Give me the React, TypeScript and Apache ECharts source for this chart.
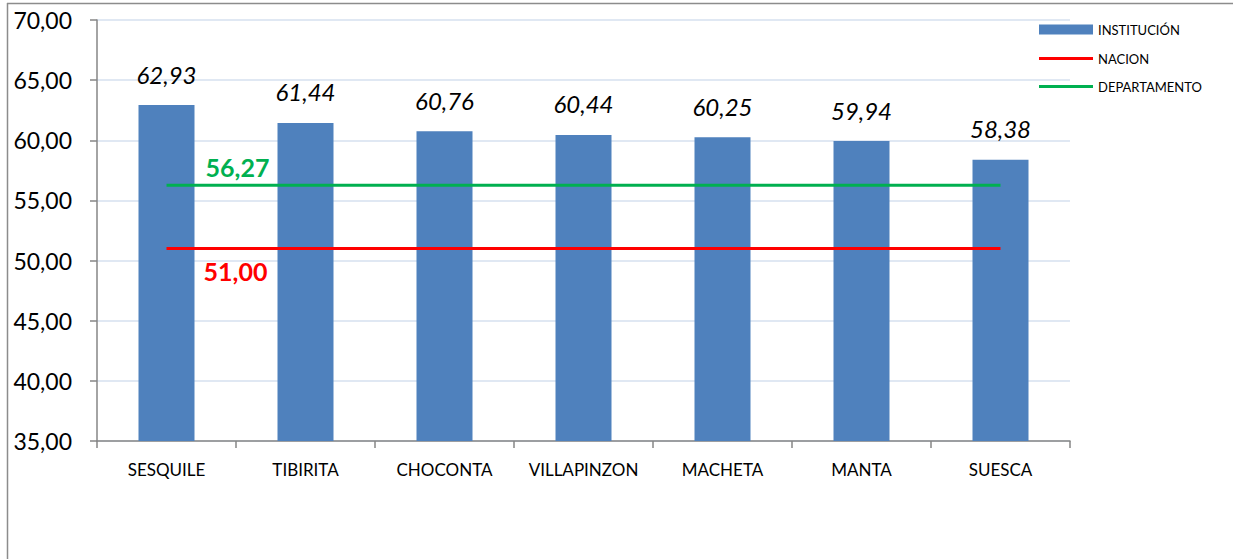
import React, { useEffect, useRef } from "react";
import * as echarts from "echarts";

const categories = ["SESQUILE", "TIBIRITA", "CHOCONTA", "VILLAPINZON", "MACHETA", "MANTA", "SUESCA"];
const institucion = [62.93, 61.44, 60.76, 60.44, 60.25, 59.94, 58.38];
const nacion = [51.0, 51.0, 51.0, 51.0, 51.0, 51.0, 51.0];
const departamento = [56.27, 56.27, 56.27, 56.27, 56.27, 56.27, 56.27];

const fmt = (v: number) => v.toFixed(2).replace(".", ",");
const FONT = "Lato";

const legendText = { fontFamily: FONT, fontSize: 13, color: "#000" };

export default function App() {
  const ref = useRef<HTMLDivElement>(null);
  useEffect(() => {
    if (!ref.current) return;
    const chart = echarts.init(ref.current, null, { renderer: "svg" });
    const lineLabel = (color: string, offset: number[]) => ({
      show: true,
      position: "inside",
      offset,
      fontFamily: FONT,
      fontSize: 25,
      fontWeight: "bold",
      color,
      formatter: (p: any) => fmt(p.value),
    });
    chart.setOption({
      animation: false,
      backgroundColor: "#ffffff",
      textStyle: { fontFamily: FONT },
      grid: { left: 97, top: 20, right: 163, bottom: 118, containLabel: false },
      legend: [
        {
          orient: "vertical",
          left: 1034,
          top: 18,
          itemWidth: 54,
          itemHeight: 10,
          textStyle: legendText,
          data: [{ name: "INSTITUCIÓN", icon: "rect" }],
        },
        {
          orient: "vertical",
          left: 1034,
          top: 47,
          itemWidth: 54,
          itemHeight: 3,
          itemGap: 15,
          textStyle: legendText,
          data: [
            { name: "NACION", icon: "rect" },
            { name: "DEPARTAMENTO", icon: "rect" },
          ],
        },
      ],
      graphic: [
        { type: "line", shape: { x1: 7.5, y1: 3, x2: 7.5, y2: 559 }, style: { stroke: "#8c8c8c", lineWidth: 1.5 } },
        { type: "line", shape: { x1: 7, y1: 3.5, x2: 1233, y2: 3.5 }, style: { stroke: "#8c8c8c", lineWidth: 1.5 } },
      ],
      xAxis: {
        type: "category",
        data: categories,
        boundaryGap: true,
        axisLine: { lineStyle: { color: "#868686", width: 1.5 } },
        axisTick: { show: true, interval: 0, length: 7, inside: false, lineStyle: { color: "#868686", width: 1.5 } },
        axisLabel: { interval: 0, fontFamily: FONT, fontSize: 17, color: "#000", margin: 20 },
      },
      yAxis: {
        type: "value",
        min: 35,
        max: 70,
        interval: 5,
        axisLine: { show: true, lineStyle: { color: "#868686", width: 1.5 } },
        axisTick: { show: true, length: 7, lineStyle: { color: "#868686", width: 1.5 } },
        axisLabel: { fontFamily: FONT, fontSize: 23, color: "#000", margin: 25, formatter: (v: number) => fmt(v) },
        splitLine: { show: true, lineStyle: { color: "#d6e0ef", width: 1.5 } },
      },
      series: [
        {
          name: "INSTITUCIÓN",
          type: "bar",
          data: institucion,
          barWidth: 56,
          itemStyle: { color: "#4f81bd" },
          label: {
            show: true,
            position: "top",
            distance: 19,
            fontFamily: FONT,
            fontSize: 24,
            fontStyle: "italic",
            color: "#000",
            formatter: (p: any) => fmt(p.value),
          },
          z: 1,
        },
        {
          name: "NACION",
          type: "line",
          data: nacion,
          symbol: "none",
          lineStyle: { color: "#ff0000", width: 3 },
          itemStyle: { color: "#ff0000" },
          markPoint: {
            symbol: "circle",
            symbolSize: 1,
            itemStyle: { color: "rgba(0,0,0,0)" },
            label: lineLabel("#ff0000", [69, 22]),
            data: [{ coord: [0, nacion[0]], value: nacion[0] }],
          },
          z: 3,
        },
        {
          name: "DEPARTAMENTO",
          type: "line",
          data: departamento,
          symbol: "none",
          lineStyle: { color: "#00b050", width: 3 },
          itemStyle: { color: "#00b050" },
          markPoint: {
            symbol: "circle",
            symbolSize: 1,
            itemStyle: { color: "rgba(0,0,0,0)" },
            label: lineLabel("#00b050", [71, -18]),
            data: [{ coord: [0, departamento[0]], value: departamento[0] }],
          },
          z: 3,
        },
      ],
    });
    return () => chart.dispose();
  }, []);
  return (
    <div
      ref={ref}
      style={{ position: "fixed", left: 0, top: 0, width: 1233, height: 559, background: "#fff" }}
    />
  );
}
